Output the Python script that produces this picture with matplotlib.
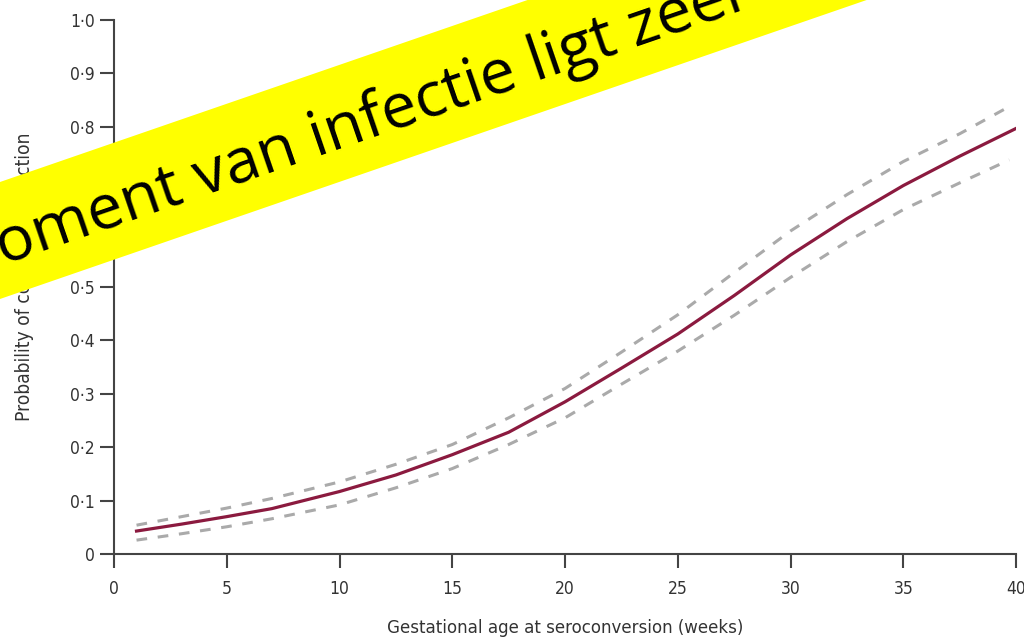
import matplotlib
matplotlib.use("Agg")
import matplotlib.pyplot as plt
from matplotlib.patches import Polygon

# values
weeks = [1, 3, 5, 7, 10, 12.5, 15, 17.5, 20, 22.5, 25, 27.5, 30, 32.5, 35, 37.5, 40]
prob = [0.043, 0.056, 0.070, 0.085, 0.117, 0.148, 0.186, 0.228, 0.285, 0.348,
        0.412, 0.484, 0.560, 0.628, 0.690, 0.745, 0.797]

ci_weeks = [1, 3, 5, 7, 10, 12.5, 15, 17.5, 20, 22.5, 25, 27.5, 30, 32.5, 35, 37.5, 39.7]
upper = [0.054, 0.070, 0.086, 0.104, 0.135, 0.168, 0.205, 0.255, 0.310, 0.378,
         0.448, 0.527, 0.605, 0.673, 0.735, 0.787, 0.838]
lower = [0.026, 0.038, 0.051, 0.066, 0.092, 0.124, 0.160, 0.205, 0.255, 0.318,
         0.380, 0.447, 0.518, 0.585, 0.645, 0.695, 0.738]

xticks = [0, 5, 10, 15, 20, 25, 30, 35, 40]
yticks = [0, 0.1, 0.2, 0.3, 0.4, 0.5, 0.6, 0.7, 0.8, 0.9, 1.0]
ytick_labels = ["0", "0·1", "0·2", "0·3", "0·4", "0·5", "0·6", "0·7", "0·8", "0·9", "1·0"]

banner_text = "oment van infectie ligt zeer"

grey = "#444444"
txt = dict(family="DejaVu Sans", fontstretch="condensed", color="#333333")

fig = plt.figure(figsize=(10.24, 6.39), dpi=100)
ax = fig.add_axes([0.1113, 0.133, 0.881, 0.8357])

ax.plot(ci_weeks, upper, color="#aaaaaa", lw=2.2, dashes=(3.5, 3.5))
ax.plot(ci_weeks, lower, color="#aaaaaa", lw=2.2, dashes=(3.5, 3.5))
ax.plot(weeks, prob, color="#8b1a3f", lw=2.3)

ax.set_xlim(0, 40)
ax.set_ylim(0, 1)
ax.set_xticks(xticks)
ax.set_xticklabels([str(t) for t in xticks], fontsize=12.5, **txt)
ax.set_yticks(yticks)
ax.set_yticklabels(ytick_labels, fontsize=12.5, **txt)
ax.tick_params(direction="out", length=10, width=1.5, color=grey)
ax.tick_params(axis="x", pad=9)
ax.tick_params(axis="y", pad=4)

for s in ["top", "right"]:
    ax.spines[s].set_visible(False)
for s in ["left", "bottom"]:
    ax.spines[s].set_color(grey)
    ax.spines[s].set_linewidth(1.5)

ax.set_xlabel("Gestational age at seroconversion (weeks)", fontsize=13.3,
              labelpad=15, **txt)
ax.set_ylabel("Probability of congenital infection", fontsize=13.8, **txt)
ax.yaxis.set_label_coords(-0.089, 0.52)

# yellow banner across the top-left corner
W, H = 1024, 639
slope = 0.345
corners = []
for px, py in [(-100, 299 + 100 * slope), (1100, 299 - 1100 * slope),
               (1100, 182 - 1100 * slope), (-100, 182 + 100 * slope)]:
    corners.append((px / W, 1 - py / H))
fig.add_artist(Polygon(corners, closed=True, transform=fig.transFigure,
                       facecolor="#ffff00", edgecolor="none", zorder=10))
fig.text(3 / W, 1 - 265 / H, banner_text, rotation=19, rotation_mode="anchor",
         ha="left", va="baseline", fontsize=45.5, family="Open Sans",
         color="black", zorder=11)

fig.savefig("out.png", dpi=100)
